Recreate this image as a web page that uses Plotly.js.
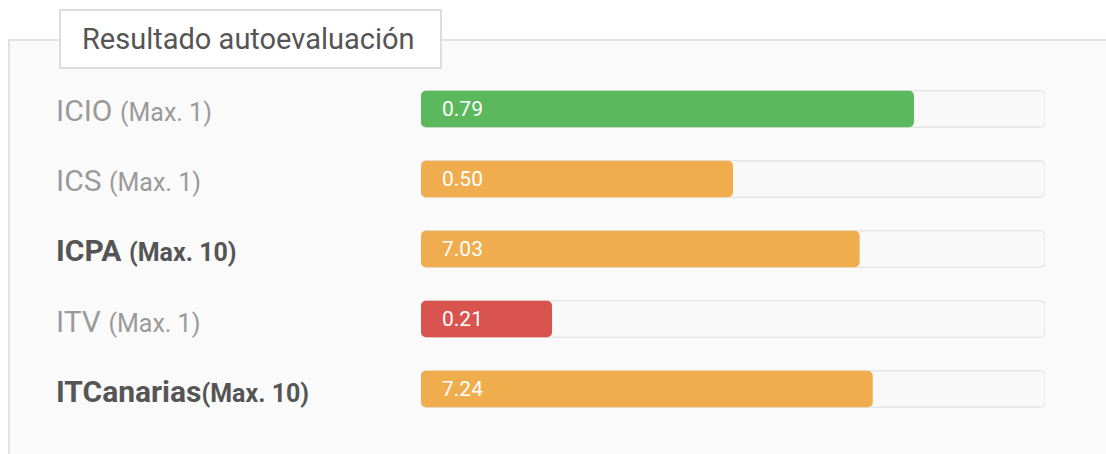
<!DOCTYPE html>
<html>
<head>
<meta charset="utf-8">
<script src="https://cdn.plot.ly/plotly-3.0.1.min.js"></script>
<style>
  html, body { margin: 0; padding: 0; background: #ffffff; }
  #chart { width: 1106px; height: 454px; }
</style>
</head>
<body>
<div id="chart"></div>
<script>
// ---- data ----
const chartTitle = 'Resultado autoevaluación';
const labels = ['ICIO (Max. 1)', 'ICS (Max. 1)', 'ICPA (Max. 10)', 'ITV (Max. 1)', 'ITCanarias(Max. 10)'];
const values = [0.79, 0.50, 7.03, 0.21, 7.24];
const maxima = [1, 1, 10, 1, 10];

// ---- derived ----
const W = 1106, H = 454;
const px = x => x / W;
const py = y => 1 - y / H;
const fracs = values.map((v, i) => v / maxima[i]);
const full = maxima.map(() => 1);
const colorFor = f => f >= 0.75 ? '#5cb85c' : (f < 0.3 ? '#d9534f' : '#f0ad4e');
const barColors = fracs.map(colorFor);

const track = {
  type: 'bar', orientation: 'h',
  y: labels, x: full, base: 0,
  width: 0.52,
  marker: { color: '#f9f9f9', line: { color: '#e6e6e6', width: 1.5 }, cornerradius: 5 },
  hoverinfo: 'skip', showlegend: false
};
const bars = {
  type: 'bar', orientation: 'h',
  y: labels, x: fracs.map(f => -f), base: fracs,
  width: 0.52,
  marker: { color: barColors, line: { width: 0 }, cornerradius: 5 },
  hoverinfo: 'skip', showlegend: false
};

const annotations = [];
labels.forEach((lab, i) => {
  const k = lab.indexOf('(');
  const main = lab.slice(0, k);
  const sub = lab.slice(k);
  const strong = maxima[i] >= 10;
  const txt = strong
    ? '<b>' + main + '<span style="font-size:25px">' + sub + '</span></b>'
    : main + '<span style="font-size:25px">' + sub + '</span>';
  annotations.push({
    xref: 'paper', yref: 'y', x: px(54), y: lab,
    xanchor: 'left', yanchor: 'middle', showarrow: false,
    text: txt, yshift: -2,
    font: { family: 'Roboto, sans-serif', size: 30, color: strong ? '#555555' : '#9a9a9a' }
  });
  annotations.push({
    xref: 'x', yref: 'y', x: 0, y: lab, xshift: 19,
    xanchor: 'left', yanchor: 'middle', showarrow: false,
    text: values[i].toFixed(2),
    font: { family: 'Roboto, sans-serif', size: 21, color: '#ffffff' }
  });
});
annotations.push({
  xref: 'paper', yref: 'paper', x: px(249), y: py(39),
  xanchor: 'center', yanchor: 'middle', showarrow: false,
  text: chartTitle,
  font: { family: 'Roboto, sans-serif', size: 29, color: '#555555' }
});

const layout = {
  width: W, height: H,
  margin: { l: 0, r: 0, t: 0, b: 0 },
  paper_bgcolor: '#ffffff', plot_bgcolor: 'rgba(0,0,0,0)',
  barmode: 'overlay',
  showlegend: false,
  xaxis: { domain: [px(421), px(1045)], range: [0, 1], visible: false, fixedrange: true },
  yaxis: { domain: [py(424), py(74)], range: [4.5, -0.5], type: 'category',
           visible: false, fixedrange: true },
  shapes: [
    { type: 'rect', xref: 'paper', yref: 'paper', layer: 'below',
      x0: px(9), x1: px(1120), y0: py(470), y1: py(40),
      fillcolor: '#fafafa', line: { color: '#e2e2e2', width: 2 } },
    { type: 'rect', xref: 'paper', yref: 'paper', layer: 'below',
      x0: px(60), x1: px(441), y0: py(68), y1: py(10),
      fillcolor: '#ffffff', line: { color: '#dddddd', width: 2 } }
  ],
  annotations: annotations
};

Plotly.newPlot('chart', [track, bars], layout, { displayModeBar: false, staticPlot: true });
</script>
</body>
</html>
